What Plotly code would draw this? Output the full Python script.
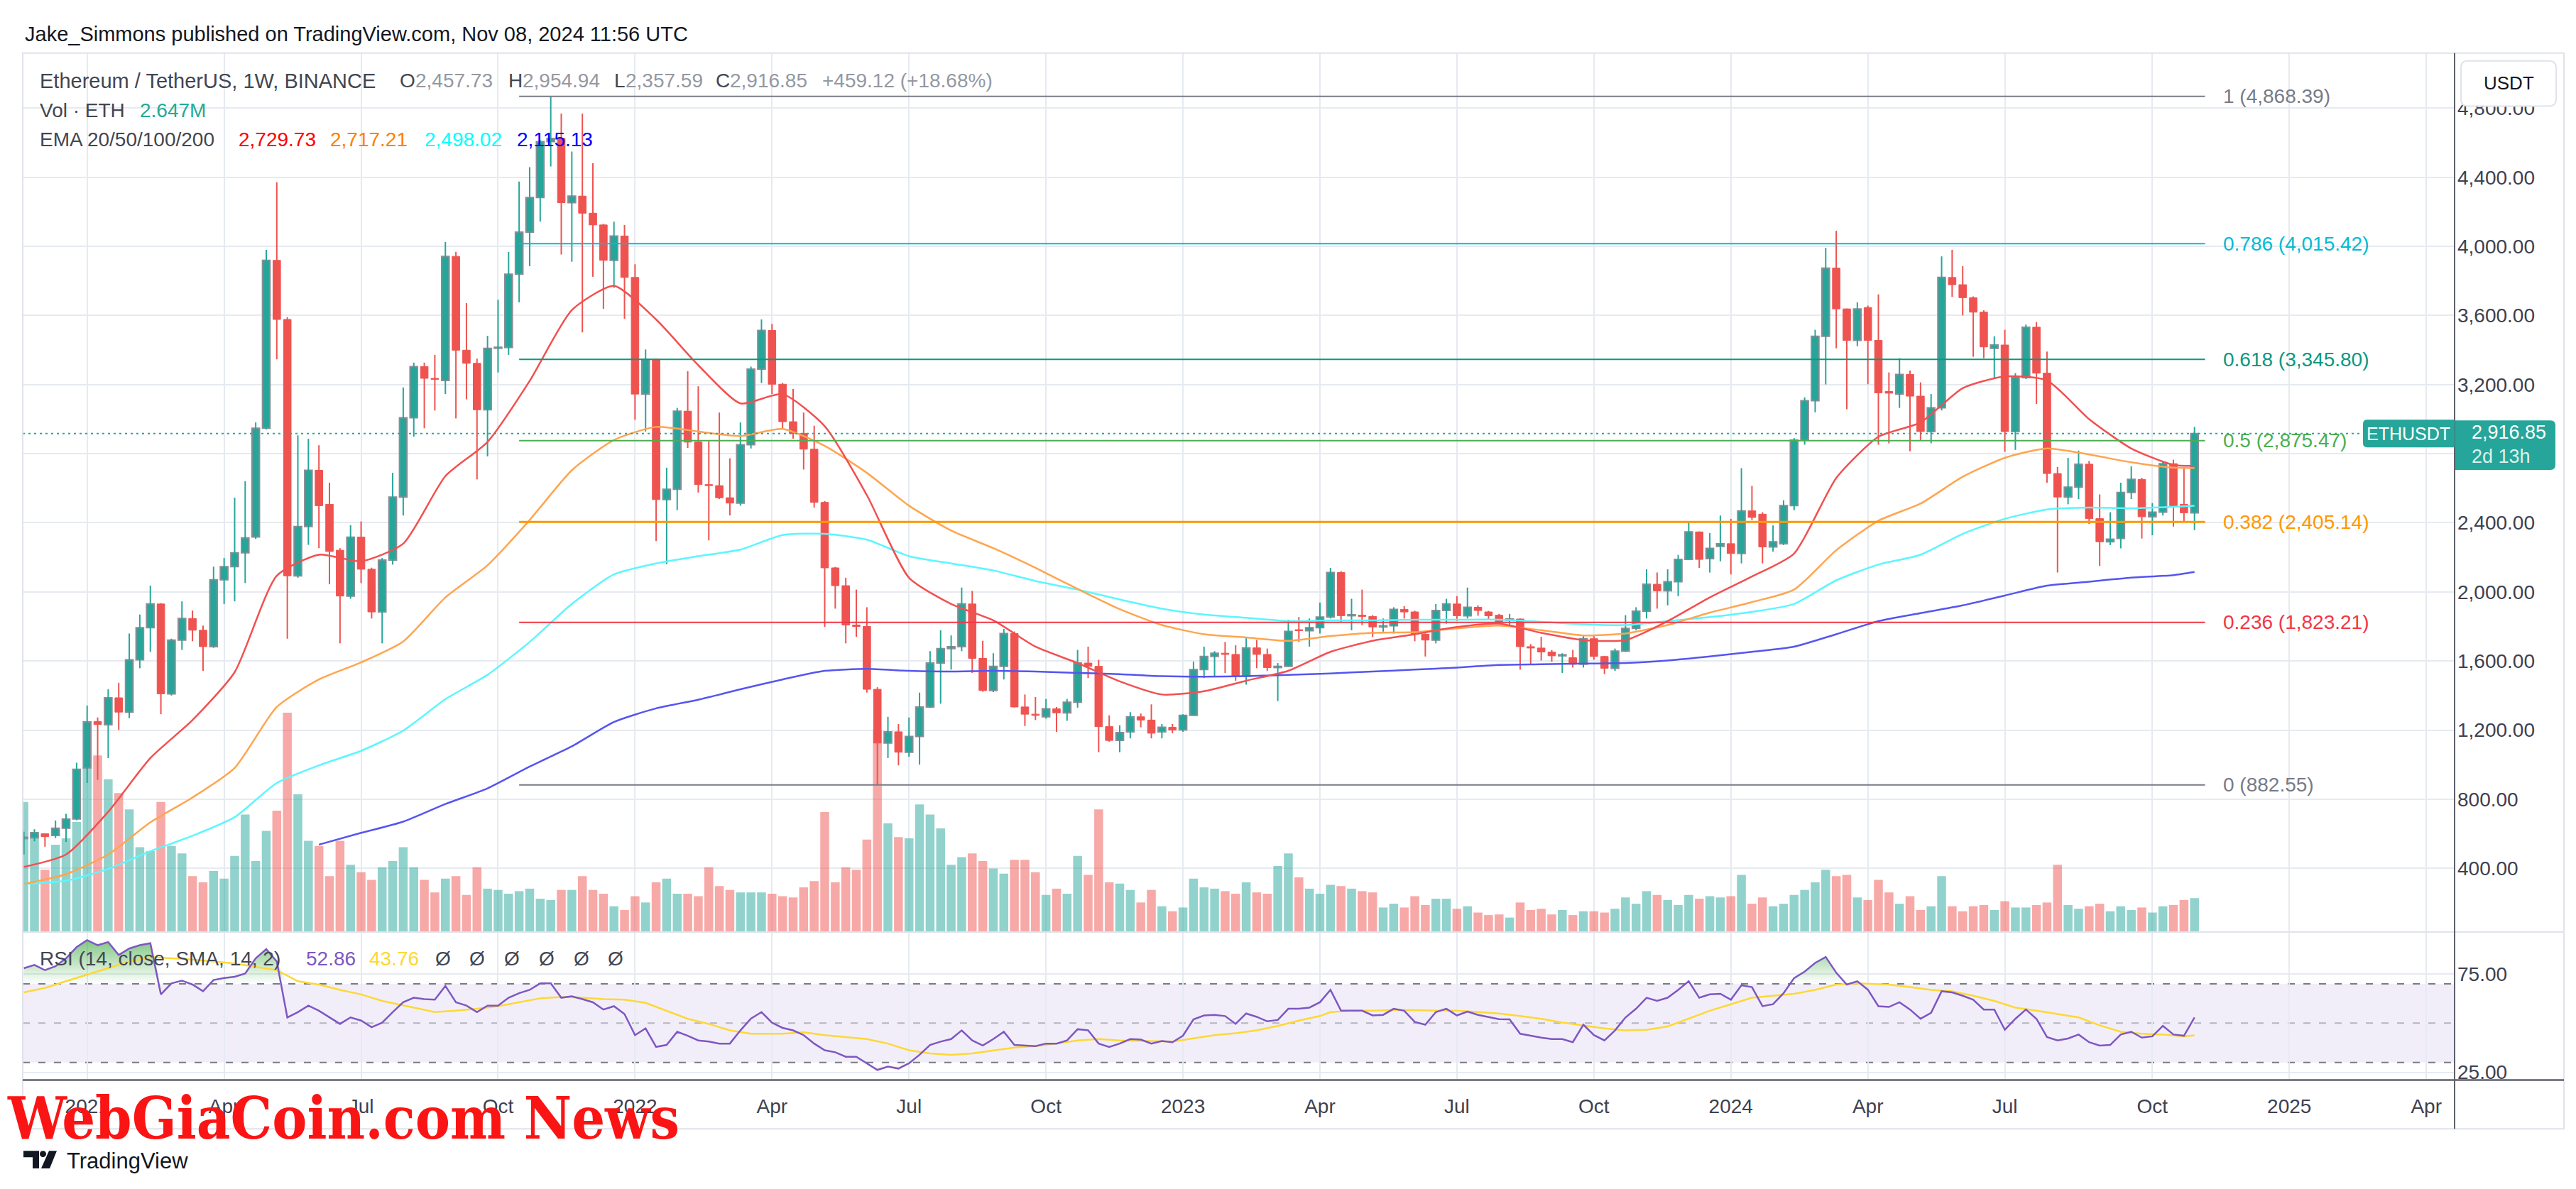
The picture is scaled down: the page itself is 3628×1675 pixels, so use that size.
import pandas as pd
import plotly.graph_objects as go

# ------------------------------------------------------------------ data
first_week = "2020-11-23"   # Monday of the first weekly bar shown

opens = [
    572, 577, 600, 590, 632, 685, 981, 1250, 1231, 1387,
    1304, 1607, 1793, 1930, 1410, 1721, 1846, 1778, 1683, 2070,
    2146, 2226, 2318, 2947, 3919, 3577, 2093, 2378, 2704, 2507,
    2241, 1976, 2317, 2131, 1884, 2184, 2549, 3008, 3304, 3236,
    3224, 3942, 3399, 3323, 3054, 3410, 3415, 3839, 4082, 4283,
    4606, 4625, 4253, 4291, 4192, 4124, 3919, 4060, 3820, 3145,
    3346, 2534, 2594, 3046, 2867, 2621, 2615, 2545, 2514, 2852,
    3289, 3513, 3202, 2985, 2917, 2826, 2518, 2139, 2036, 1808,
    1800, 1436, 1125, 1190, 1072, 1163, 1334, 1588, 1672, 1683,
    1930, 1615, 1429, 1569, 1759, 1334, 1292, 1277, 1323, 1300,
    1361, 1588, 1569, 1220, 1140, 1190, 1277, 1258, 1190, 1216,
    1201, 1285, 1550, 1626, 1645, 1638, 1512, 1676, 1638, 1562,
    1569, 1780, 1775, 1793, 1854, 2112, 1862, 1865, 1858, 1797,
    1804, 1899, 1884, 1755, 1721, 1892, 1930, 1862, 1911, 1884,
    1865, 1835, 1843, 1683, 1675, 1652, 1630, 1619, 1581, 1729,
    1626, 1558, 1657, 1789, 1888, 2044, 2006, 2059, 2188, 2347,
    2192, 2263, 2279, 2222, 2469, 2450, 2260, 2279, 2499, 2879,
    3107, 3479, 3874, 3638, 3456, 3646, 3456, 3160, 3145, 3259,
    3133, 2928, 3065, 3820, 3778, 3703, 3619, 3410, 3429, 2928,
    3240, 3532, 3266, 2685, 2549, 2606, 2739, 2424, 2290, 2309,
    2575, 2651, 2435, 2461, 2742, 2507, 2457.73,
]
highs = [
    612, 626, 603, 677, 715, 1011, 1342, 1273, 1436, 1474,
    1759, 1869, 2036, 1935, 1729, 1945, 1892, 1805, 2146, 2196,
    2545, 2640, 2981, 3980, 4371, 3590, 2906, 2886, 2849, 2632,
    2253, 2386, 2408, 2140, 2196, 2689, 3183, 3327, 3327, 3372,
    4025, 3968, 3672, 3350, 3482, 3691, 3968, 4375, 4458, 4614,
    4868.39, 4769, 4549, 4769, 4481, 4130, 4143, 4124, 3896, 3403,
    3350, 2719, 3065, 3277, 3190, 2871, 3038, 2773, 2981, 3304,
    3577, 3551, 3210, 3175, 3038, 2962, 2526, 2145, 2082, 2013,
    1911, 1448, 1277, 1235, 1273, 1417, 1657, 1778, 1748, 2025,
    2006, 1717, 1645, 1786, 1771, 1406, 1391, 1380, 1334, 1380,
    1664, 1683, 1607, 1285, 1228, 1304, 1296, 1349, 1235, 1235,
    1292, 1596, 1683, 1657, 1710, 1691, 1740, 1721, 1672, 1588,
    1839, 1854, 1846, 1938, 2139, 2120, 1960, 2013, 1865, 1846,
    1911, 1918, 1891, 1760, 1930, 1960, 1975, 2025, 1922, 1890,
    1873, 1873, 1846, 1698, 1740, 1664, 1645, 1664, 1752, 1748,
    1630, 1672, 1865, 1911, 2131, 2112, 2131, 2214, 2404, 2350,
    2340, 2442, 2423, 2716, 2613, 2461, 2385, 2530, 2890, 3126,
    3517, 3991, 4090, 3640, 3676, 3657, 3722, 3270, 3353, 3281,
    3213, 3145, 3942, 3980, 3885, 3710, 3630, 3479, 3517, 3266,
    3547, 3562, 3391, 2723, 2776, 2818, 2758, 2564, 2461, 2632,
    2727, 2660, 2514, 2757, 2765, 2719, 2954.94,
]
lows = [
    480, 556, 525, 575, 552, 678, 894, 912, 1038, 1201,
    1269, 1558, 1653, 1292, 1400, 1664, 1714, 1543, 1676, 1930,
    1945, 2051, 2306, 2940, 3346, 1729, 2082, 2272, 2253, 2044,
    1702, 1960, 2051, 1846, 1702, 2158, 2442, 2898, 2947, 3050,
    3145, 3004, 3114, 2651, 2784, 3270, 3372, 3676, 3885, 4143,
    4462, 3953, 3911, 3502, 3824, 3638, 3760, 3581, 2996, 2928,
    2294, 2161, 2473, 2833, 2575, 2298, 2537, 2442, 2499, 2830,
    3209, 3145, 2947, 2887, 2708, 2488, 1797, 1903, 1702, 1740,
    1417, 882.55, 1038, 996, 1045, 1000, 1330, 1353, 1550, 1657,
    1531, 1422, 1420, 1493, 1330, 1224, 1258, 1266, 1190, 1254,
    1330, 1501, 1072, 1133, 1072, 1152, 1216, 1152, 1152, 1182,
    1190, 1285, 1501, 1512, 1531, 1486, 1463, 1558, 1543, 1368,
    1569, 1710, 1683, 1759, 1846, 1824, 1778, 1808, 1740, 1770,
    1759, 1846, 1714, 1626, 1702, 1816, 1831, 1846, 1862, 1835,
    1816, 1805, 1550, 1580, 1603, 1596, 1531, 1562, 1562, 1607,
    1524, 1543, 1653, 1778, 1846, 1903, 1922, 1975, 2188, 2139,
    2112, 2177, 2101, 2165, 2416, 2165, 2233, 2271, 2473, 2852,
    3039, 3201, 3410, 3057, 3422, 3202, 2852, 2860, 3065, 2814,
    2879, 2860, 3050, 3707, 3600, 3361, 3353, 3239, 2811, 2822,
    3232, 3088, 2632, 2112, 2507, 2537, 2393, 2150, 2271, 2252,
    2537, 2309, 2328, 2442, 2378, 2408, 2357.59,
]
closes = [
    580, 606, 583, 632, 685, 973, 1247, 1232, 1387, 1304,
    1607, 1793, 1930, 1410, 1721, 1846, 1778, 1683, 2070, 2146,
    2226, 2313, 2947, 3919, 3577, 2093, 2378, 2704, 2499, 2234,
    1976, 2317, 2131, 1884, 2184, 2549, 3008, 3304, 3236, 3230,
    3942, 3399, 3323, 3054, 3410, 3415, 3839, 4082, 4283, 4606,
    4625, 4253, 4291, 4192, 4124, 3919, 4060, 3820, 3145, 3346,
    2534, 2594, 3046, 2867, 2621, 2615, 2545, 2514, 2852, 3289,
    3513, 3202, 2985, 2917, 2826, 2518, 2139, 2036, 1808, 1800,
    1436, 1125, 1190, 1072, 1163, 1334, 1588, 1672, 1683, 1930,
    1615, 1429, 1569, 1759, 1334, 1292, 1285, 1323, 1300, 1361,
    1588, 1569, 1220, 1140, 1186, 1277, 1258, 1182, 1216, 1201,
    1285, 1550, 1626, 1645, 1638, 1512, 1676, 1638, 1562, 1569,
    1771, 1775, 1793, 1854, 2112, 1862, 1865, 1858, 1797, 1804,
    1899, 1884, 1755, 1721, 1892, 1930, 1862, 1911, 1892, 1862,
    1824, 1843, 1683, 1675, 1652, 1630, 1632, 1581, 1729, 1626,
    1558, 1657, 1789, 1888, 2044, 2006, 2059, 2188, 2347, 2188,
    2252, 2279, 2222, 2469, 2431, 2260, 2290, 2499, 2879, 3107,
    3479, 3874, 3638, 3456, 3638, 3456, 3152, 3150, 3259, 3133,
    2928, 3065, 3820, 3778, 3703, 3619, 3418, 3429, 2928, 3240,
    3532, 3266, 2685, 2549, 2606, 2739, 2424, 2290, 2305, 2575,
    2651, 2435, 2461, 2742, 2499, 2457.73, 2916.85,
]
volumes_m = [   # weekly volume, million ETH
    10.3, 7.8, 4.9, 6.9, 7.4, 8.7, 13.1, 14.0, 12.1, 11.0,
    9.7, 6.7, 6.4, 10.3, 6.8, 6.2, 4.4, 3.9, 4.8, 4.2,
    6.0, 9.3, 5.6, 8.0, 9.6, 17.4, 10.9, 7.2, 6.8, 4.4,
    7.2, 5.3, 4.7, 4.1, 5.1, 5.6, 6.7, 5.1, 4.1, 3.1,
    4.2, 4.4, 2.9, 5.1, 3.4, 3.3, 3.0, 3.2, 3.4, 2.6,
    2.5, 3.3, 3.3, 4.4, 3.3, 3.0, 2.0, 1.7, 2.8, 2.3,
    3.9, 4.2, 3.0, 3.0, 2.8, 5.1, 3.6, 3.3, 3.1, 3.1,
    3.1, 3.0, 2.8, 2.7, 3.5, 4.0, 9.5, 3.9, 5.1, 4.9,
    7.3, 16.0, 8.6, 7.5, 7.4, 10.1, 9.3, 8.2, 5.3, 5.9,
    6.2, 5.6, 5.0, 4.6, 5.7, 5.7, 4.7, 2.9, 3.4, 3.0,
    6.0, 4.5, 9.7, 3.9, 3.8, 3.3, 2.3, 3.3, 2.0, 1.6,
    1.9, 4.2, 3.5, 3.4, 3.2, 3.0, 3.9, 3.1, 3.0, 5.2,
    6.2, 4.3, 3.4, 3.0, 3.7, 3.6, 3.4, 3.2, 3.1, 1.9,
    2.2, 1.9, 2.8, 2.1, 2.6, 2.6, 1.8, 2.0, 1.5, 1.3,
    1.35, 1.1, 2.3, 1.7, 1.8, 1.35, 1.7, 1.3, 1.6, 1.6,
    1.5, 1.8, 2.7, 2.2, 3.2, 2.9, 2.5, 2.1, 2.9, 2.6,
    2.8, 2.7, 2.8, 4.5, 2.2, 2.7, 2.0, 2.2, 2.9, 3.3,
    3.9, 4.9, 4.4, 4.5, 2.7, 2.5, 4.1, 3.1, 2.2, 2.8,
    1.7, 2.0, 4.4, 2.0, 1.6, 2.0, 2.1, 1.7, 2.4, 1.9,
    1.9, 2.1, 2.3, 5.3, 2.1, 1.8, 2.0, 2.2, 1.6, 2.0,
    1.7, 1.9, 1.5, 2.0, 2.1, 2.5, 2.647,
]
rsi_values = [
    77.9, 79.6, 76.9, 78.9, 82.9, 88.6, 92.2, 89.6, 91.2, 84.6,
    87.9, 89.6, 90.6, 64.6, 70.2, 71.6, 69.6, 66.2, 71.9, 72.9,
    73.6, 75.2, 82.9, 87.6, 81.3, 52.9, 55.6, 58.9, 56.3, 52.9,
    49.6, 52.9, 51.3, 47.9, 50.2, 55.6, 60.6, 62.9, 62.2, 61.9,
    68.9, 60.6, 58.9, 55.6, 58.9, 58.9, 62.9, 65.2, 66.9, 70.2,
    70.2, 62.9, 63.6, 62.2, 60.6, 56.9, 58.6, 54.6, 43.9, 47.3,
    37.9, 38.9, 45.6, 43.6, 41.2, 40.6, 39.6, 39.6, 46.3, 52.3,
    55.6, 50.2, 47.6, 46.3, 43.9, 39.6, 36.2, 35.2, 32.9, 32.9,
    29.6, 26.2, 27.9, 26.9, 29.6, 33.9, 38.9, 40.6, 41.9, 46.3,
    41.2, 38.6, 41.9, 45.6, 38.9, 38.6, 38.3, 39.6, 39.6, 41.2,
    46.9, 46.3, 39.6, 37.9, 39.6, 41.9, 41.6, 39.6, 40.9, 40.3,
    43.6, 51.9, 53.9, 54.2, 53.6, 49.6, 54.9, 53.2, 50.9, 51.6,
    57.3, 57.3, 57.9, 60.6, 66.9, 56.3, 56.3, 56.3, 53.9, 54.2,
    57.3, 56.3, 50.6, 49.2, 55.6, 57.3, 53.9, 55.9, 54.2, 53.2,
    52.0, 51.9, 44.6, 43.6, 42.6, 41.9, 41.9, 40.3, 49.2, 43.9,
    41.2, 46.3, 52.9, 57.3, 62.9, 61.3, 62.9, 66.9, 71.3, 62.9,
    64.6, 64.9, 61.9, 69.2, 68.3, 58.6, 59.6, 65.2, 72.9, 76.2,
    80.6, 83.6, 75.6, 69.6, 71.3, 67.0, 58.6, 58.2, 60.6, 56.9,
    52.2, 55.2, 66.2, 65.6, 63.9, 61.9, 56.9, 56.9, 46.6, 52.2,
    56.9, 52.2, 42.9, 41.2, 42.2, 44.2, 40.3, 38.6, 38.9, 44.2,
    45.6, 42.6, 43.3, 48.6, 44.2, 43.6, 52.86,
]
# RSI-based SMA, read at these bar numbers
rsi_sma_bars = [0, 2, 4, 6, 8, 10, 12, 14, 16, 18, 20, 22, 24, 26, 28, 30, 32, 34,
                37, 39, 41, 43, 45, 47, 49, 51, 53, 55, 57, 59, 61, 63, 65, 67, 69,
                72, 74, 76, 78, 80, 82, 84, 86, 88, 90, 92, 94, 96, 98, 100, 102, 104,
                107, 109, 111, 113, 115, 117, 119, 121, 123, 124, 126, 128, 130, 132,
                134, 136, 138, 140, 142, 144, 146, 148, 150, 152, 154, 156, 158, 160,
                162, 164, 166, 168, 170, 172, 174, 177, 179, 181, 183, 185, 187, 189,
                191, 193, 195, 197, 199, 201, 203, 205, 206]
rsi_sma_values = [65.6, 67.9, 71.3, 74.6, 77.9, 81.3, 83.6, 82.9, 82.3, 81.3, 80.3, 78.6,
                  76.9, 71.3, 69.6, 66.9, 64.6, 61.3,
                  57.9, 55.6, 56.3, 57.3, 58.6, 60.6, 62.6, 63.3, 62.9, 62.2, 61.9, 60.3,
                  56.3, 52.2, 49.6, 46.3, 44.6,
                  44.6, 45.3, 43.9, 42.9, 41.9, 39.6, 36.2, 34.6, 33.9, 34.6, 36.2, 37.6,
                  38.3, 39.6, 41.2, 41.9, 41.2,
                  40.9, 40.6, 42.3, 43.9, 44.9, 46.3, 48.6, 51.3, 53.6, 55.6, 56.3, 56.3,
                  56.6, 56.6, 56.3, 56.3, 55.6, 54.9, 53.6, 52.2, 50.3, 48.9, 47.3, 46.3,
                  46.6, 48.3, 52.2, 56.3, 59.6, 62.9, 63.9, 64.9, 66.9, 69.6, 70.2,
                  69.6, 68.3, 66.9, 66.2, 63.9, 61.3, 57.9, 56.3, 54.6, 52.9, 48.9, 45.6,
                  44.6, 44.2, 43.3, 43.76]

# EMAs read every 4th bar (plus the last bar)
ema_bars = list(range(0, 205, 4)) + [206]
ema20 = [408, 480, 727, 1038, 1258, 1535, 2093, 2215, 2177,
         2279, 2670, 2868, 3221, 3631, 3771, 3577, 3312, 3091,
         3145, 2959, 2560, 2082, 1930, 1835, 1683, 1588, 1482,
         1406, 1425, 1486, 1543, 1653, 1717, 1755, 1797,
         1816, 1763, 1721, 1721, 1831, 1968, 2089, 2222, 2659,
         2898, 2981, 3179, 3247, 3224, 3000, 2830, 2735, 2729.73]
ema50 = [309, 366, 480, 666, 810, 981, 1334, 1493, 1592,
         1713, 1968, 2154, 2416, 2704, 2879, 2955, 2928, 2902,
         2943, 2845, 2689, 2499, 2355, 2253, 2139, 2017, 1900,
         1808, 1755, 1736, 1717, 1744, 1763, 1767, 1789,
         1805, 1778, 1748, 1759, 1808, 1880, 1941, 2013, 2241,
         2412, 2511, 2666, 2776, 2830, 2795, 2750, 2719, 2717.21]
ema100 = [309, 328, 396, 499, 588, 696, 894, 996, 1080,
          1197, 1379, 1520, 1710, 1930, 2101, 2165, 2207, 2245,
          2329, 2336, 2302, 2207, 2165, 2124, 2063, 2013, 1956,
          1903, 1869, 1850, 1831, 1835, 1835, 1839, 1839,
          1839, 1827, 1812, 1808, 1831, 1854, 1884, 1930, 2067,
          2158, 2215, 2336, 2423, 2477, 2488, 2484, 2492, 2498.02]
ema200_bars = list(range(28, 205, 4)) + [206]
ema200 = [537, 605, 670, 772, 863, 989, 1106, 1247, 1326, 1376, 1436,
          1493, 1543, 1554, 1543, 1539, 1543, 1539, 1531, 1524,
          1512, 1509, 1512, 1520, 1528, 1539, 1550, 1562,
          1577, 1581, 1585, 1588, 1603, 1626, 1653, 1683, 1755,
          1831, 1877, 1922, 1979, 2036, 2059, 2082, 2097, 2115.13]

# Fibonacci retracement drawing
fib_start, fib_end = "2021-10-18", "2024-11-11"
fib_levels = ["1", "0.786", "0.618", "0.5", "0.382", "0.236", "0"]
fib_prices = [4868.39, 4015.42, 3345.80, 2875.47, 2405.14, 1823.21, 882.55]
fib_colors = ["#787b86", "#00bcd4", "#089981", "#4caf50", "#ff9800", "#f23645", "#787b86"]

price_ticks = [400, 800, 1200, 1600, 2000, 2400, 2800, 3200, 3600, 4000, 4400, 4800]
time_tick_dates = ["2021-01-04", "2021-04-05", "2021-07-05", "2021-10-04",
                   "2022-01-03", "2022-04-04", "2022-07-04", "2022-10-03",
                   "2023-01-02", "2023-04-03", "2023-07-03", "2023-10-02",
                   "2024-01-01", "2024-04-01", "2024-07-01", "2024-10-07",
                   "2025-01-06", "2025-04-07"]
time_tick_labels = ["2021", "Apr", "Jul", "Oct", "2022", "Apr", "Jul", "Oct",
                    "2023", "Apr", "Jul", "Oct", "2024", "Apr", "Jul", "Oct",
                    "2025", "Apr"]

n = len(closes)
assert len(opens) == n and len(highs) == n and len(lows) == n
assert len(volumes_m) == n and len(rsi_values) == n
assert len(rsi_sma_bars) == len(rsi_sma_values)
assert len(ema20) == len(ema_bars) == len(ema50) == len(ema100)
assert len(ema200) == len(ema200_bars)

# ------------------------------------------------------------- geometry
W, H = 3628, 1675
PL, PR = 24, 3449            # plot area left/right (px)
MAIN_T, MAIN_B = 67, 1308    # price pane
RSI_T, RSI_B = 1310, 1518    # rsi pane
FRAME_R, FRAME_B = 3603, 1587


def fx(x):
    return x / W


def fy(y):
    return 1 - y / H


P_SLOPE, P_ZERO = 0.24411, 1316.5
price_range = [(P_ZERO - MAIN_B) / P_SLOPE, (P_ZERO - MAIN_T) / P_SLOPE]
R_PPU, R_50 = 2.78, 1437.6
rsi_range = [50 - (RSI_B - R_50) / R_PPU, 50 + (R_50 - RSI_T) / R_PPU]
V_PPM = 17.76
vol_range = [0, (MAIN_B - MAIN_T) / V_PPM]
T_REF, T_REF_PX, PX_PER_DAY = pd.Timestamp("2021-01-04"), 114.7, 2.12
x_range = [T_REF + pd.Timedelta(days=(PL - T_REF_PX) / PX_PER_DAY),
           T_REF + pd.Timedelta(days=(PR - T_REF_PX) / PX_PER_DAY)]
DAY_MS = 86400000

FONT = "Liberation Sans, Arial, sans-serif"
TXT = "#434651"
AXTXT = "#3d4150"
GRID = "#e6eaf1"
UP, DN = "#26a69a", "#ef5350"

dates = pd.date_range(first_week, periods=n, freq="7D")
dstr = [d.strftime("%Y-%m-%d") for d in dates]
up = [c >= o for o, c in zip(opens, closes)]

fig = go.Figure()

# volume (base axis y, drawn under the price subplot)
fig.add_trace(go.Bar(
    x=dstr, y=volumes_m, width=5.9 * DAY_MS,
    marker=dict(color=["rgba(38,166,154,0.5)" if u else "rgba(239,83,80,0.5)" for u in up],
                line=dict(width=0)),
    xaxis="x", yaxis="y", hoverinfo="skip"))

# wicks
for flag, col in ((True, UP), (False, DN)):
    xs, ys = [], []
    for d, h, l, u in zip(dstr, highs, lows, up):
        if u == flag:
            xs += [d, d, None]
            ys += [l, h, None]
    fig.add_trace(go.Scatter(x=xs, y=ys, mode="lines", line=dict(color=col, width=2),
                             xaxis="x", yaxis="y2", hoverinfo="skip", connectgaps=False))

# bodies
for flag, col, lcol, lw in ((True, UP, "#8a8d96", 2), (False, DN, DN, 1)):
    idx = [i for i in range(n) if up[i] == flag]
    fig.add_trace(go.Bar(
        x=[dstr[i] for i in idx],
        y=[max(abs(closes[i] - opens[i]), 6) for i in idx],
        base=[min(opens[i], closes[i]) for i in idx],
        width=5.0 * DAY_MS,
        marker=dict(color=col, line=dict(color=lcol, width=lw)),
        xaxis="x", yaxis="y2", hoverinfo="skip"))

# EMAs
for bars, vals, col in ((ema200_bars, ema200, "#5555f0"), (ema_bars, ema100, "#5cf6ff"),
                        (ema_bars, ema50, "#ffa54f"), (ema_bars, ema20, "#f25050")):
    fig.add_trace(go.Scatter(x=[dstr[i] for i in bars], y=vals, mode="lines",
                             line=dict(color=col, width=2.5, shape="spline", smoothing=0.6),
                             xaxis="x", yaxis="y2", hoverinfo="skip"))

# Fibonacci lines
for lvl, p, col in zip(fib_levels, fib_prices, fib_colors):
    fig.add_trace(go.Scatter(x=[fib_start, fib_end], y=[p, p], mode="lines",
                             line=dict(color=col, width=3 if lvl == "0.382" else 2),
                             xaxis="x", yaxis="y2", hoverinfo="skip"))

# last price dotted line
fig.add_trace(go.Scatter(x=x_range, y=[closes[-1], closes[-1]], mode="lines",
                         line=dict(color=UP, width=2, dash="3px,5px"),
                         xaxis="x", yaxis="y2", hoverinfo="skip"))

# RSI pane: overbought / oversold gradient fills
fig.add_trace(go.Scatter(x=dstr, y=[70] * n, mode="lines", line=dict(width=0),
                         xaxis="x2", yaxis="y3", hoverinfo="skip"))
fig.add_trace(go.Scatter(x=dstr, y=[max(v, 70) for v in rsi_values], mode="lines",
                         line=dict(width=0), fill="tonexty",
                         fillgradient=dict(type="vertical", start=70, stop=100,
                                           colorscale=[[0, "rgba(76,175,80,0)"],
                                                       [1, "rgba(76,175,80,0.95)"]]),
                         xaxis="x2", yaxis="y3", hoverinfo="skip"))
fig.add_trace(go.Scatter(x=dstr, y=[30] * n, mode="lines", line=dict(width=0),
                         xaxis="x2", yaxis="y3", hoverinfo="skip"))
fig.add_trace(go.Scatter(x=dstr, y=[min(v, 30) for v in rsi_values], mode="lines",
                         line=dict(width=0), fill="tonexty",
                         fillgradient=dict(type="vertical", start=0, stop=30,
                                           colorscale=[[0, "rgba(242,54,69,0.95)"],
                                                       [1, "rgba(242,54,69,0)"]]),
                         xaxis="x2", yaxis="y3", hoverinfo="skip"))
fig.add_trace(go.Scatter(x=[dstr[i] for i in rsi_sma_bars], y=rsi_sma_values, mode="lines",
                         line=dict(color="#fdd835", width=2.5),
                         xaxis="x2", yaxis="y3", hoverinfo="skip"))
fig.add_trace(go.Scatter(x=dstr, y=rsi_values, mode="lines",
                         line=dict(color="#7e57c2", width=2.5),
                         xaxis="x2", yaxis="y3", hoverinfo="skip"))

# ---------------------------------------------------------------- shapes
shapes = []
# RSI background band and reference lines
shapes.append(dict(type="rect", xref="paper", yref="y3", x0=fx(PL), x1=fx(PR), y0=30, y1=70,
                   fillcolor="rgba(126,87,194,0.1)", line=dict(width=0), layer="below"))
for lvl, col in ((70, "#787b86"), (50, "#b2b5be"), (30, "#787b86")):
    shapes.append(dict(type="line", xref="paper", yref="y3", x0=fx(PL), x1=fx(PR), y0=lvl, y1=lvl,
                       line=dict(color=col, width=2, dash="10px,12px"), layer="below"))
# frame
shapes.append(dict(type="rect", xref="paper", yref="paper", x0=fx(PL), x1=fx(FRAME_R),
                   y0=fy(FRAME_B), y1=fy(MAIN_T), line=dict(color="#e0e3eb", width=2),
                   fillcolor="rgba(0,0,0,0)", layer="above"))
shapes.append(dict(type="line", xref="paper", yref="paper", x0=fx(PL), x1=fx(FRAME_R),
                   y0=fy(1309), y1=fy(1309), line=dict(color="#e0e3eb", width=2), layer="above"))
shapes.append(dict(type="line", xref="paper", yref="paper", x0=fx(PR), x1=fx(PR),
                   y0=fy(FRAME_B), y1=fy(MAIN_T), line=dict(color="#5d606b", width=2), layer="above"))
shapes.append(dict(type="line", xref="paper", yref="paper", x0=fx(PL), x1=fx(FRAME_R),
                   y0=fy(RSI_B), y1=fy(RSI_B), line=dict(color="#5d606b", width=2.5), layer="above"))


def rr_path(x0, y0, x1, y1, r, tl=True, tr=True, br=True, bl=True):
    def P(x, y):
        return f"{fx(x):.6f},{fy(y):.6f}"
    a, b, c, d = [r if f else 0 for f in (tl, tr, br, bl)]
    return (f"M{P(x0 + a, y0)} L{P(x1 - b, y0)} Q{P(x1, y0)} {P(x1, y0 + b)} "
            f"L{P(x1, y1 - c)} Q{P(x1, y1)} {P(x1 - c, y1)} L{P(x0 + d, y1)} "
            f"Q{P(x0, y1)} {P(x0, y1 - d)} L{P(x0, y0 + a)} Q{P(x0, y0)} {P(x0 + a, y0)} Z")


# ETHUSDT tag + price label + USDT button
shapes.append(dict(type="path", xref="paper", yref="paper", path=rr_path(3320, 585, 3449, 624, 6, tr=False, br=False),
                   fillcolor=UP, line=dict(width=0), layer="above"))
shapes.append(dict(type="path", xref="paper", yref="paper", path=rr_path(3450, 586, 3591, 656, 7, tl=False, bl=False),
                   fillcolor=UP, line=dict(width=0), layer="above"))
shapes.append(dict(type="path", xref="paper", yref="paper", path=rr_path(3458, 78, 3592, 142, 10),
                   fillcolor="white", line=dict(color="#e0e3eb", width=2), layer="above"))
# TradingView logo mark
shapes.append(dict(type="path", xref="paper", yref="paper",
                   path=f"M{fx(25)},{fy(1618)} L{fx(47)},{fy(1618)} L{fx(47)},{fy(1643)} L{fx(38)},{fy(1643)} "
                        f"L{fx(38)},{fy(1627)} L{fx(25)},{fy(1627)} Z",
                   fillcolor="#131722", line=dict(width=0), layer="above"))
shapes.append(dict(type="circle", xref="paper", yref="paper", x0=fx(48), x1=fx(57), y0=fy(1627), y1=fy(1618),
                   fillcolor="#131722", line=dict(width=0), layer="above"))
shapes.append(dict(type="path", xref="paper", yref="paper",
                   path=f"M{fx(61)},{fy(1618)} L{fx(72)},{fy(1618)} L{fx(62)},{fy(1643)} L{fx(50)},{fy(1643)} Z",
                   fillcolor="#131722", line=dict(width=0), layer="above"))

# ----------------------------------------------------------- annotations
annotations = []


def ann(text, x, y, size=28, color=TXT, xanchor="left", family=FONT):
    annotations.append(dict(text=text, x=fx(x), y=fy(y), xref="paper", yref="paper",
                            xanchor=xanchor, yanchor="middle", showarrow=False,
                            font=dict(size=size, color=color, family=family)))


ann("Jake_Simmons published on TradingView.com, Nov 08, 2024 11:56 UTC", 25, 40, size=29, color="#131722")

o, h, l, c = opens[-1], highs[-1], lows[-1], closes[-1]
chg = c - o
ann("Ethereum / TetherUS, 1W, BINANCE", 46, 106, size=29)
ann("O", 553, 106)
ann(f"{o:,.2f}", 575, 106, color="#9598a1")
ann("H", 706, 106)
ann(f"{h:,.2f}", 726, 106, color="#9598a1")
ann("L", 855, 106)
ann(f"{l:,.2f}", 871, 106, color="#9598a1")
ann("C", 998, 106)
ann(f"{c:,.2f}", 1018, 106, color="#9598a1")
ann(f"+{chg:,.2f} (+{chg / o * 100:.2f}%)", 1148, 106, color="#9598a1")
ann("Vol · ETH", 46, 148)
ann(f"{volumes_m[-1]:.3f}M", 187, 148, color="#22ab94")
ann("EMA 20/50/100/200", 46, 189)
ann(f"{ema20[-1]:,.2f}", 326, 189, color="#ff0000")
ann(f"{ema50[-1]:,.2f}", 455, 189, color="#ff8000")
ann(f"{ema100[-1]:,.2f}", 588, 189, color="#00ffff")
ann(f"{ema200[-1]:,.2f}", 718, 189, color="#0000ff")

ann("RSI (14, close, SMA, 14, 2)", 46, 1347)
ann(f"{rsi_values[-1]:.2f}", 421, 1347, color="#7e57c2")
ann(f"{rsi_sma_values[-1]:.2f}", 510, 1347, color="#fdd835")
for xx in (603, 651, 700, 749, 798, 846):
    ann("Ø", xx, 1347)

for lvl, p, col in zip(fib_levels, fib_prices, fib_colors):
    ann(f"{lvl} ({p:,.2f})", 3121, P_ZERO - p * P_SLOPE, color=col)

ann("ETHUSDT", 3384, 604.5, size=25, color="white", xanchor="center")
ann(f"{c:,.2f}", 3471, 603, size=27, color="white")
ann("2d 13h", 3471, 637, size=27, color="rgba(255,255,255,0.85)")
ann("USDT", 3525, 109, size=26, color="#131722", xanchor="center")

ann("<b>WebGiaCoin.com News</b>", 0, 1572, size=82, color="#fb1414",
    family="DejaVu Serif Condensed, DejaVu Serif, serif")
ann("TradingView", 84, 1632, size=31, color="#131722")

# ---------------------------------------------------------------- layout
axfont = dict(size=28, color=AXTXT, family=FONT)
fig.update_layout(
    width=W, height=H, margin=dict(l=0, r=0, t=0, b=0),
    paper_bgcolor="white", plot_bgcolor="rgba(0,0,0,0)",
    showlegend=False, barmode="overlay", hovermode=False,
    font=dict(family=FONT, size=28, color=TXT),
    xaxis=dict(domain=[fx(PL), fx(PR)], anchor="y", type="date", range=x_range,
               tickvals=time_tick_dates, showticklabels=False, showgrid=True,
               gridcolor=GRID, gridwidth=2, zeroline=False, showline=False, ticks=""),
    yaxis=dict(domain=[fy(MAIN_B), fy(MAIN_T)], anchor="x", range=vol_range, visible=False),
    yaxis2=dict(overlaying="y", anchor="x", side="right", range=price_range,
                tickvals=price_ticks, ticktext=[f"{v:,.2f}" for v in price_ticks],
                showgrid=True, gridcolor=GRID, gridwidth=1.5, zeroline=False, showline=False,
                ticks="", ticklabelstandoff=3, tickfont=axfont),
    xaxis2=dict(domain=[fx(PL), fx(PR)], anchor="y3", type="date", range=x_range,
                tickvals=time_tick_dates, ticktext=time_tick_labels, showgrid=True,
                gridcolor=GRID, gridwidth=2, zeroline=False, showline=False, ticks="",
                ticklabelstandoff=18, tickfont=axfont),
    yaxis3=dict(domain=[fy(RSI_B), fy(RSI_T)], anchor="x2", side="right", range=rsi_range,
                tickvals=[25, 75], ticktext=["25.00", "75.00"], showgrid=True,
                gridcolor=GRID, gridwidth=1.5, zeroline=False, showline=False, ticks="",
                ticklabelstandoff=3, tickfont=axfont),
    shapes=shapes, annotations=annotations,
)

fig.write_html("out.html", config={"displayModeBar": False})
